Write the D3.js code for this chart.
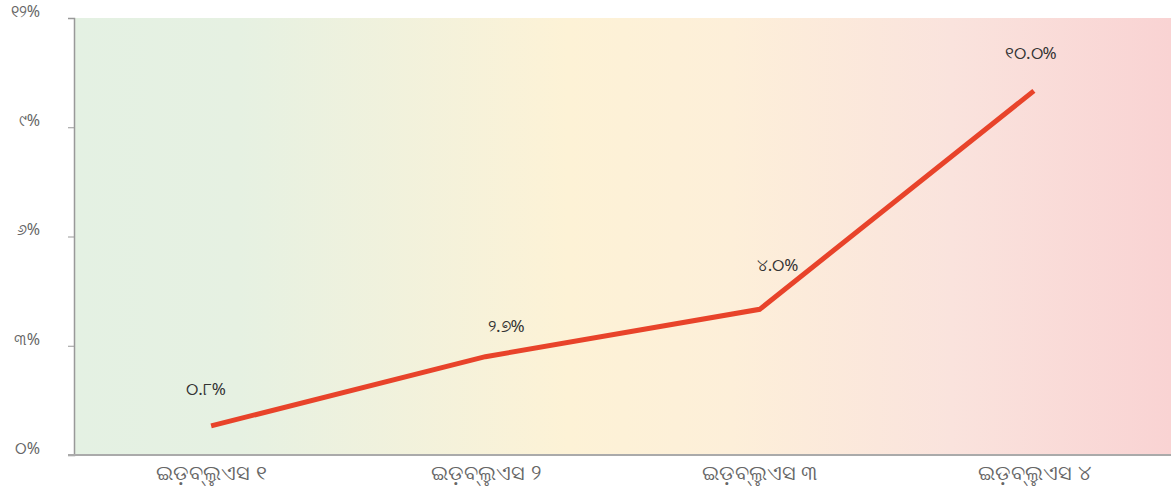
<!DOCTYPE html>
<html><head><meta charset="utf-8">
<script src="https://cdn.jsdelivr.net/npm/d3@7"></script>
<style>
html,body{margin:0;padding:0;background:#fff;}
svg{display:block;font-family:"Noto Sans","DejaVu Sans",sans-serif;}
</style></head><body>
<svg id="chart" width="1171" height="490"></svg>
<script>
const categories = ["ଇଡ଼ବ୍ଲୁଏସ ୧", "ଇଡ଼ବ୍ଲୁଏସ ୨", "ଇଡ଼ବ୍ଲୁଏସ ୩", "ଇଡ଼ବ୍ଲୁଏସ ୪"];
const values = [0.8, 2.7, 4.0, 10.0];
const valueLabels = ["୦.୮%", "୨.୭%", "୪.୦%", "୧୦.୦%"];
const yTicks = [0, 3, 6, 9, 12];
const yTickLabels = ["୦%", "୩%", "୬%", "୯%", "୧୨%"];

const W = 1171, H = 490;
const m = {left: 74, right: 0, top: 18, bottom: 35};
const svg = d3.select("#chart");

const x = d3.scalePoint().domain(categories).range([m.left, W - m.right]).padding(0.5);
const y = d3.scaleLinear().domain([0, 12]).range([H - m.bottom, m.top]);

const defs = svg.append("defs");
const g = defs.append("linearGradient").attr("id", "bg").attr("x1", "0%").attr("x2", "100%");
g.append("stop").attr("offset", "0%").attr("stop-color", "#e4f1e3");
g.append("stop").attr("offset", "15%").attr("stop-color", "#e6f1e2");
g.append("stop").attr("offset", "45%").attr("stop-color", "#fdf2d6");
g.append("stop").attr("offset", "60%").attr("stop-color", "#fdefd9");
g.append("stop").attr("offset", "80%").attr("stop-color", "#fae3dd");
g.append("stop").attr("offset", "100%").attr("stop-color", "#f9d3d3");

svg.append("rect")
  .attr("x", m.left).attr("y", m.top)
  .attr("width", W - m.right - m.left).attr("height", H - m.bottom - m.top)
  .attr("fill", "url(#bg)");

// y axis
const yAxis = svg.append("g").attr("transform", `translate(${m.left},0)`)
  .call(d3.axisLeft(y).tickValues(yTicks).tickFormat((d, i) => yTickLabels[i]).tickSize(6).tickPadding(28));
yAxis.select(".domain").attr("stroke", "#999").attr("stroke-width", 1.5);
yAxis.selectAll(".tick line").attr("stroke", "#999");
yAxis.selectAll("text").attr("fill", "#666").attr("dy", "-0.1em").style("font-size", "16px")
  .style("font-family", "\"Noto Sans\",\"DejaVu Sans\",sans-serif");

// x axis
const xAxis = svg.append("g").attr("transform", `translate(0,${H - m.bottom})`)
  .call(d3.axisBottom(x).tickSize(0).tickPadding(7));
xAxis.select(".domain").attr("stroke", "#aaa").attr("stroke-width", 2)
  .attr("d", `M${m.left - 6},0H${W}`);
xAxis.selectAll("text").attr("fill", "#666").style("font-size", "21px").attr("dy", "0.85em")
  .style("font-family", "\"Noto Sans\",\"DejaVu Sans\",sans-serif");

// line
const line = d3.line().x((d, i) => x(categories[i])).y(d => y(d));
svg.append("path").datum(values)
  .attr("fill", "none").attr("stroke", "#e8432a").attr("stroke-width", 5)
  .attr("stroke-linejoin", "miter")
  .attr("d", line);

// value labels
const labelDx = [-5, 21, 18, -3];
const labelDy = [-35, -29, -43, -36];
svg.selectAll(".vl").data(values).enter().append("text")
  .attr("class", "vl")
  .attr("x", (d, i) => x(categories[i]) + labelDx[i])
  .attr("y", (d, i) => y(d) + labelDy[i])
  .attr("text-anchor", "middle").attr("dominant-baseline", "middle")
  .attr("fill", "#333").style("font-size", "17px")
  .text((d, i) => valueLabels[i]);
</script>
</body></html>
